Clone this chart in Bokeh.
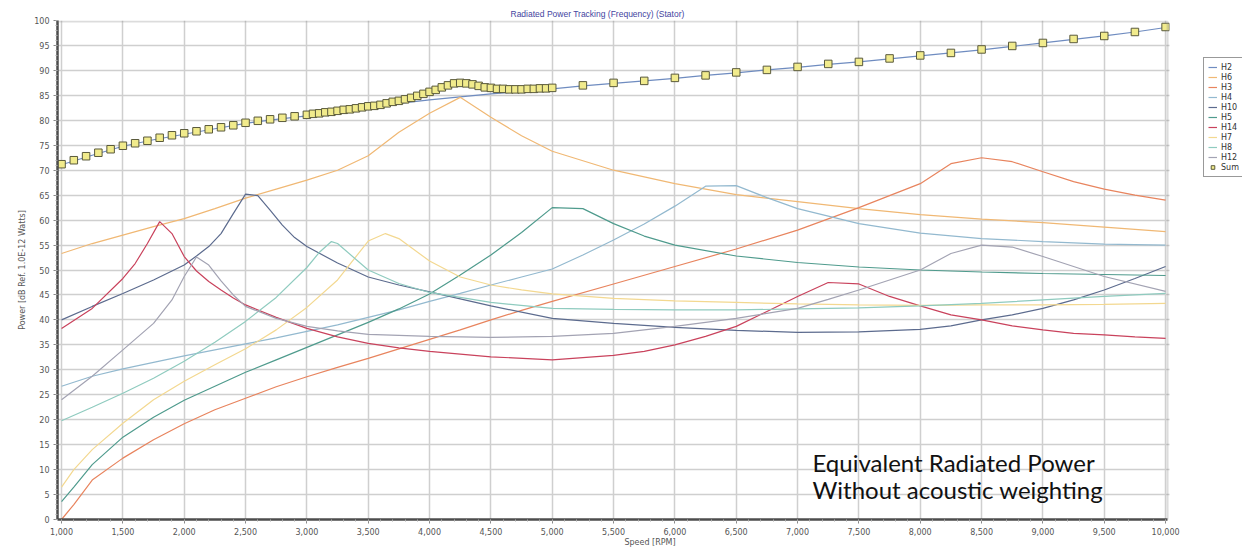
from bokeh.plotting import figure
from bokeh.models import (Range1d, SingleIntervalTicker, NumeralTickFormatter,
                          Legend, LegendItem, Label, BoxAnnotation)
from bokeh.embed import file_html
from bokeh.resources import INLINE

# ---------------- data ----------------
title_text = "Radiated Power Tracking (Frequency) (Stator)"
x_title = "Speed [RPM]"
y_title = "Power [dB Ref. 1.0E-12 Watts]"
note_line1 = "Equivalent Radiated Power"
note_line2 = "Without acoustic weighting"

rpm_h2 = [1000, 1250, 1500, 1750, 2000, 2250, 2500, 2750, 3000, 3250, 3500, 3750,
          4000, 4250, 4500, 4750, 5000, 5250, 5500, 5750, 6000, 6250, 6500, 6750,
          7000, 7250, 7500, 7750, 8000, 8250, 8500, 8750, 9000, 9250, 9500, 9750, 10000]
h2 = [71.1, 73.0, 74.8, 76.1, 77.2, 78.3, 79.4, 80.2, 80.9, 81.6, 82.4, 83.4,
      84.1, 84.7, 85.3, 85.8, 86.3, 86.9, 87.4, 87.9, 88.4, 89.0, 89.5, 90.1,
      90.6, 91.2, 91.7, 92.3, 92.9, 93.5, 94.1, 94.8, 95.5, 96.2, 96.9, 97.7, 98.6]

rpm_h6 = [1000, 1250, 1500, 1750, 2000, 2250, 2500, 2750, 3000, 3250, 3500, 3750, 4000,
          4250, 4500, 4750, 5000, 5500, 6000, 6500, 7000, 7500, 8000, 8500, 9000, 9500, 10000]
h6 = [53.3, 55.3, 57.0, 58.7, 60.3, 62.3, 64.4, 66.2, 68.0, 70.0, 72.9, 77.6, 81.4,
      84.6, 80.6, 76.9, 73.8, 70.0, 67.3, 65.1, 63.7, 62.3, 61.1, 60.2, 59.5, 58.6, 57.7]

rpm_h3 = [1000, 1100, 1250, 1500, 1750, 2000, 2250, 2500, 2750, 3000, 3250, 3500, 3750,
          4000, 4250, 4500, 4750, 5000, 5500, 6000, 6500, 7000, 7500, 8000, 8250, 8500,
          8750, 9000, 9250, 9500, 9750, 10000]
h3 = [0.0, 3.0, 7.9, 12.3, 16.0, 19.2, 22.0, 24.3, 26.6, 28.6, 30.5, 32.3, 34.2,
      36.1, 38.0, 40.0, 41.9, 43.7, 47.2, 50.7, 54.2, 58.0, 62.5, 67.3, 71.3, 72.5,
      71.7, 69.7, 67.7, 66.2, 65.0, 64.0]

rpm_h4 = [1000, 1250, 1500, 1750, 2000, 2250, 2500, 2750, 3000, 3250, 3500, 3750, 4000,
          4250, 4500, 4750, 5000, 5250, 5500, 5750, 6000, 6250, 6500, 6750, 7000, 7500,
          8000, 8500, 9000, 9500, 10000]
h4 = [26.7, 28.7, 30.2, 31.5, 32.8, 34.0, 35.2, 36.4, 37.7, 39.0, 40.5, 42.0, 43.7,
      45.3, 47.0, 48.6, 50.2, 53.0, 56.0, 59.2, 62.8, 66.8, 66.9, 64.5, 62.3, 59.3,
      57.4, 56.3, 55.7, 55.2, 55.0]

rpm_h10 = [1000, 1250, 1500, 1750, 2000, 2100, 2200, 2300, 2400, 2500, 2600, 2700, 2800,
           2900, 3000, 3250, 3500, 3750, 4000, 4500, 5000, 5500, 6000, 6500, 7000, 7500,
           8000, 8250, 8500, 8750, 9000, 9250, 9500, 9750, 10000]
h10 = [40.0, 42.7, 45.3, 48.0, 51.0, 52.8, 54.7, 57.3, 61.3, 65.2, 64.9, 62.0, 59.0,
       56.5, 54.7, 51.4, 48.6, 47.0, 45.6, 42.8, 40.3, 39.3, 38.5, 37.9, 37.5, 37.6,
       38.1, 38.8, 40.0, 41.0, 42.3, 44.0, 46.0, 48.3, 50.7]

rpm_h5 = [1000, 1100, 1250, 1500, 1750, 2000, 2250, 2500, 2750, 3000, 3250, 3500, 3750,
          4000, 4250, 4500, 4750, 5000, 5250, 5500, 5750, 6000, 6500, 7000, 7500, 8000,
          8500, 9000, 9500, 10000]
h5 = [3.6, 6.5, 11.0, 16.5, 20.5, 23.9, 26.7, 29.5, 32.0, 34.5, 37.0, 39.5, 42.2,
      45.2, 49.0, 53.0, 57.5, 62.5, 62.3, 59.3, 56.8, 55.0, 52.8, 51.5, 50.6, 50.0,
      49.6, 49.3, 49.1, 48.9]

rpm_h14 = [1000, 1250, 1500, 1600, 1700, 1800, 1900, 2000, 2100, 2200, 2300, 2400, 2500,
           2750, 3000, 3250, 3500, 3750, 4000, 4500, 5000, 5500, 5750, 6000, 6250, 6500,
           6750, 7000, 7250, 7500, 7750, 8000, 8250, 8500, 8750, 9000, 9250, 9500, 9750, 10000]
h14 = [38.3, 42.3, 48.3, 51.3, 55.3, 59.7, 57.3, 52.7, 49.8, 47.7, 46.0, 44.4, 43.0,
       40.5, 38.3, 36.6, 35.3, 34.4, 33.7, 32.6, 32.0, 32.9, 33.7, 35.0, 36.7, 38.7,
       41.7, 44.7, 47.5, 47.2, 44.7, 42.8, 41.0, 40.0, 38.8, 38.0, 37.3, 37.0, 36.6, 36.3]

rpm_h7 = [1000, 1100, 1250, 1500, 1750, 2000, 2250, 2500, 2750, 3000, 3250, 3500, 3640,
          3750, 4000, 4250, 4500, 4750, 5000, 5500, 6000, 6500, 7000, 7500, 8000, 8500,
          9000, 9500, 10000]
h7 = [6.5, 10.0, 14.0, 19.3, 24.0, 27.7, 31.0, 34.2, 38.0, 42.5, 48.0, 55.8, 57.3,
      56.3, 51.8, 48.6, 47.0, 46.0, 45.2, 44.3, 43.8, 43.5, 43.2, 43.0, 42.9, 43.0,
      43.0, 43.1, 43.3]

rpm_h8 = [1000, 1250, 1500, 1750, 2000, 2250, 2500, 2750, 3000, 3100, 3200, 3250, 3500,
          3750, 4000, 4500, 5000, 5500, 6000, 6500, 7000, 7500, 8000, 8500, 9000, 9500, 10000]
h8 = [19.8, 22.5, 25.3, 28.3, 31.7, 35.5, 39.7, 44.5, 50.5, 53.5, 55.7, 55.3, 50.0,
      47.3, 45.5, 43.5, 42.3, 42.1, 42.0, 42.0, 42.2, 42.4, 42.8, 43.3, 44.0, 44.7, 45.3]

rpm_h12 = [1000, 1250, 1500, 1750, 1900, 2000, 2100, 2200, 2300, 2400, 2500, 2750, 3000,
           3250, 3500, 4000, 4500, 5000, 5500, 6000, 6500, 7000, 7250, 7500, 8000, 8250,
           8500, 8750, 9000, 9500, 10000]
h12 = [24.0, 28.7, 34.0, 39.3, 44.0, 48.7, 52.6, 51.0, 47.8, 45.0, 42.7, 40.3, 38.7,
       37.8, 37.1, 36.7, 36.5, 36.7, 37.3, 38.7, 40.3, 42.3, 44.1, 46.0, 50.0, 53.3,
       55.0, 54.6, 52.7, 48.7, 45.7]

rpm_sum = [1000, 1100, 1200, 1300, 1400, 1500, 1600, 1700, 1800, 1900, 2000, 2100, 2200,
           2300, 2400, 2500, 2600, 2700, 2800, 2900, 3000,
           3050, 3100, 3150, 3200, 3250, 3300, 3350, 3400, 3450, 3500, 3550, 3600, 3650,
           3700, 3750, 3800, 3850, 3900, 3950, 4000, 4050, 4100, 4150, 4200, 4250, 4300,
           4350, 4400, 4450, 4500, 4550, 4600, 4650, 4700, 4750, 4800, 4850, 4900, 4950, 5000,
           5250, 5500, 5750, 6000, 6250, 6500, 6750, 7000, 7250, 7500, 7750, 8000, 8250,
           8500, 8750, 9000, 9250, 9500, 9750, 10000]
total = [71.2, 72.0, 72.8, 73.5, 74.2, 74.9, 75.4, 75.9, 76.5, 77.0, 77.4, 77.8, 78.2,
         78.6, 79.0, 79.5, 79.9, 80.2, 80.5, 80.8, 81.1,
         81.3, 81.4, 81.6, 81.7, 81.9, 82.1, 82.2, 82.4, 82.6, 82.8, 82.9, 83.1, 83.4,
         83.7, 83.9, 84.2, 84.5, 84.9, 85.3, 85.7, 86.1, 86.6, 87.0, 87.4, 87.5, 87.4,
         87.2, 86.9, 86.6, 86.5, 86.3, 86.3, 86.2, 86.2, 86.2, 86.3, 86.3, 86.4, 86.4, 86.5,
         87.0, 87.5, 87.9, 88.5, 89.0, 89.6, 90.1, 90.7, 91.3, 91.7, 92.4, 93.0, 93.5,
         94.2, 94.9, 95.5, 96.3, 96.9, 97.7, 98.7]

series = [
    ("H2", rpm_h2, h2, "#6f8cc0"),
    ("H6", rpm_h6, h6, "#f0b874"),
    ("H3", rpm_h3, h3, "#e8845e"),
    ("H4", rpm_h4, h4, "#93b9cf"),
    ("H10", rpm_h10, h10, "#5c6b8e"),
    ("H5", rpm_h5, h5, "#4f9b8d"),
    ("H14", rpm_h14, h14, "#c9425c"),
    ("H7", rpm_h7, h7, "#f3d890"),
    ("H8", rpm_h8, h8, "#8fcbbf"),
    ("H12", rpm_h12, h12, "#a3a3b3"),
]

# axis extent (data) of the drawn plot box, and the full frame extent which
# also hosts the legend strip on the right
x_lo, x_hi = 967, 10016
x_frame_hi = 10627

# ---------------- figure ----------------
p = figure(width=1242, height=549, output_backend="svg", toolbar_location=None,
           x_range=Range1d(x_lo, x_frame_hi), y_range=Range1d(0, 100),
           min_border_left=57, min_border_right=0, min_border_top=20,
           min_border_bottom=28, background_fill_color="white",
           border_fill_color="white")

p.title.text = title_text
p.title.align = "left"
p.title.offset = 453
p.title.text_font = "Liberation Sans"
p.title.text_font_size = "8.5px"
p.title.text_font_style = "normal"
p.title.text_color = "#4444a0"
p.title.standoff = 4

p.outline_line_color = None

p.xaxis.ticker = SingleIntervalTicker(interval=500, num_minor_ticks=5)
p.yaxis.ticker = SingleIntervalTicker(interval=5, num_minor_ticks=5)
p.xaxis.formatter = NumeralTickFormatter(format="0,0")
p.xaxis.bounds = (x_lo, x_hi)

for ax in (p.xaxis, p.yaxis):
    ax.axis_line_color = "#4d4d4d"
    ax.axis_line_width = 2.5
    ax.major_tick_line_color = "#888888"
    ax.minor_tick_line_color = "#aaaaaa"
    ax.major_tick_out = 4
    ax.major_tick_in = 0
    ax.minor_tick_out = 2
    ax.minor_tick_in = 0
    ax.major_label_text_font = "DejaVu Sans"
    ax.major_label_text_font_size = "8px"
    ax.major_label_text_color = "#555555"
    ax.major_label_standoff = 4
    ax.axis_label_text_font = "DejaVu Sans"
    ax.axis_label_text_font_size = "8px"
    ax.axis_label_text_font_style = "normal"
    ax.axis_label_text_color = "#555555"

p.yaxis.axis_label = y_title
p.yaxis.axis_label_standoff = 4
p.xaxis.axis_label = x_title
p.xaxis.axis_label_standoff = 0

p.xgrid.grid_line_color = "#cfcfcf"
p.ygrid.grid_line_color = "#cfcfcf"
p.xgrid.grid_line_width = 1.5
p.ygrid.grid_line_width = 1.5

items = []
for name, xs, ys, col in series:
    r = p.line(xs, ys, line_color=col, line_width=1.2)
    items.append(LegendItem(label=name, renderers=[r]))

rs = p.scatter(rpm_sum, total, marker="square", size=7.5, fill_color="#f1eb8c",
               line_color="#5a5a3c", line_width=1)
items.append(LegendItem(label="Sum", renderers=[rs]))

# white strip right of the plot box (hosts the legend)
p.add_layout(BoxAnnotation(left=x_hi + 16, fill_color="white", fill_alpha=1,
                           line_color=None))
# top / right border of the plot box (left / bottom edges fall outside the frame)
p.add_layout(BoxAnnotation(left=x_lo - 100, right=x_hi, bottom=-5, top=99.8,
                           fill_alpha=0, line_color="#8c8c8c", line_width=2))

legend = Legend(items=items, location=(1146, 342), orientation="vertical",
                border_line_color="#333333", border_line_width=1,
                background_fill_color="white", background_fill_alpha=1,
                label_text_font="DejaVu Sans", label_text_font_size="8px",
                label_text_color="#333333", glyph_width=9, glyph_height=10,
                label_height=9, label_standoff=4, spacing=0, padding=4, margin=0)
p.add_layout(legend, "center")

p.add_layout(Label(x=755, y=43, x_units="screen", y_units="screen", text=note_line1,
                   text_font="Lato", text_font_size="24px", text_color="#111111"))
p.add_layout(Label(x=755, y=16, x_units="screen", y_units="screen", text=note_line2,
                   text_font="Lato", text_font_size="24px", text_color="#111111"))

open("out.html", "w").write(file_html(p, INLINE))
